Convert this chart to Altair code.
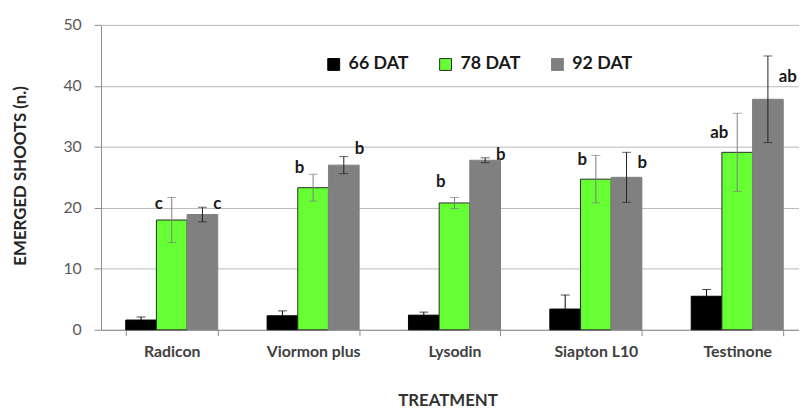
import altair as alt
import pandas as pd

treatments = ["Radicon", "Viormon plus", "Lysodin", "Siapton L10", "Testinone"]
series = ["66 DAT", "78 DAT", "92 DAT"]
mean_66 = [1.6, 2.3, 2.4, 3.4, 5.5]
err_66 = [0.5, 0.8, 0.5, 2.3, 1.1]
mean_78 = [18.0, 23.3, 20.8, 24.7, 29.1]
err_78 = [3.7, 2.2, 0.9, 3.9, 6.4]
mean_92 = [18.9, 27.0, 27.8, 25.0, 37.8]
err_92 = [1.2, 1.4, 0.4, 4.1, 7.1]
letters_78 = ["c", "b", "b", "b", "ab"]
letters_92 = ["c", "b", "b", "b", "ab"]
letter_y_78 = [20.6, 26.6, 24.2, 27.8, 32.3]
letter_y_92 = [20.6, 29.7, 28.6, 27.4, 41.4]

rows = []
for s, means, errs in zip(series, [mean_66, mean_78, mean_92], [err_66, err_78, err_92]):
    for t, m, e in zip(treatments, means, errs):
        rows.append({"treatment": t, "series": s, "value": m, "lo": m - e, "hi": m + e})
df = pd.DataFrame(rows)

df78 = pd.DataFrame({"treatment": treatments, "series": "78 DAT", "letter": letters_78, "ly": letter_y_78})
df92 = pd.DataFrame({"treatment": treatments, "series": "92 DAT", "letter": letters_92, "ly": letter_y_92})

FONT = "Lato"

x_scale = alt.Scale(domain=treatments, range=[0, 714], paddingInner=0.349, paddingOuter=0.1745)
x_axis = alt.Axis(
    title="TREATMENT", labelAngle=0, tickBand="extent", tickSize=6,
    domainColor="#8c8c8c", tickColor="#8c8c8c", grid=False,
    labelFont=FONT, labelFontSize=16, labelFontWeight="bold", labelColor="#404040",
    labelPadding=8, titleFont=FONT, titleFontSize=17, titleFontWeight="bold",
    titleColor="#333333", titleX=350, titleY=71, titleAlign="center", titleBaseline="middle",
)
y_scale = alt.Scale(domain=[0, 50], nice=False)
y_axis = alt.Axis(
    values=[0, 10, 20, 30, 40, 50], grid=True, gridColor="#b8b8b8",
    domainColor="#8c8c8c", tickColor="#8c8c8c", tickSize=7,
    labelFont=FONT, labelFontSize=16, labelColor="#595959", labelPadding=13,
    title="EMERGED SHOOTS (n.)", titleFont=FONT, titleFontSize=17, titleFontWeight="bold",
    titleColor="#262626", titleX=-81, titleY=152, titleAngle=270,
    titleAlign="center", titleBaseline="middle",
)
xoff = alt.XOffset("series:N", sort=series, scale=alt.Scale(domain=series, paddingInner=0, paddingOuter=0))

leg = alt.Legend(
    title=None, orient="none", legendX=226, legendY=31, direction="horizontal",
    symbolType="square", symbolSize=144, symbolStrokeWidth=1,
    labelFont=FONT, labelFontSize=18, labelFontWeight="bold", labelColor="#1a1a1a",
    labelOffset=6, columnPadding=28, padding=0, gridAlign="all",
)

x_enc = alt.X("treatment:N", sort=treatments, scale=x_scale, axis=x_axis)

bars = alt.Chart(df).mark_bar(strokeWidth=1).encode(
    x=x_enc,
    xOffset=xoff,
    y=alt.Y("value:Q", scale=y_scale, axis=y_axis),
    fill=alt.Fill("series:N", sort=series, scale=alt.Scale(domain=series, range=["#000000", "#66ff33", "#808080"]), legend=leg),
    stroke=alt.Stroke("series:N", sort=series, scale=alt.Scale(domain=series, range=["#000000", "#2b2b2b", "#808080"]), legend=leg),
)

err_color = alt.Color("series:N", scale=alt.Scale(domain=series, range=["#000000", "#7f7f7f", "#1f1f1f"]), legend=None)

rules = alt.Chart(df).mark_rule(strokeWidth=1).encode(
    x=alt.X("treatment:N", sort=treatments, scale=x_scale),
    xOffset=xoff,
    y=alt.Y("lo:Q", scale=y_scale),
    y2="hi:Q",
    color=err_color,
)

caps = alt.Chart(df).transform_fold(["lo", "hi"], as_=["end", "yv"]).mark_tick(
    thickness=1, size=9, orient="horizontal"
).encode(
    x=alt.X("treatment:N", sort=treatments, scale=x_scale),
    xOffset=xoff,
    y=alt.Y("yv:Q", scale=y_scale),
    color=err_color,
)

txt78 = alt.Chart(df78).mark_text(
    align="right", baseline="middle", dx=-9, font=FONT, fontSize=17, fontWeight="bold", color="#1a1a1a"
).encode(
    x=alt.X("treatment:N", sort=treatments, scale=x_scale),
    xOffset=xoff,
    y=alt.Y("ly:Q", scale=y_scale),
    text="letter:N",
)
txt92 = alt.Chart(df92).mark_text(
    align="left", baseline="middle", dx=11, font=FONT, fontSize=17, fontWeight="bold", color="#1a1a1a"
).encode(
    x=alt.X("treatment:N", sort=treatments, scale=x_scale),
    xOffset=xoff,
    y=alt.Y("ly:Q", scale=y_scale),
    text="letter:N",
)

chart = alt.layer(bars, rules, caps, txt78, txt92).properties(
    width=705, height=308,
    autosize=alt.AutoSizeParams(type="none"),
    padding={"left": 94, "top": 15, "right": 0, "bottom": 82},
    background="white",
).configure_view(stroke=None)

chart.save("out.html", embed_options={"renderer": "svg", "actions": False})
